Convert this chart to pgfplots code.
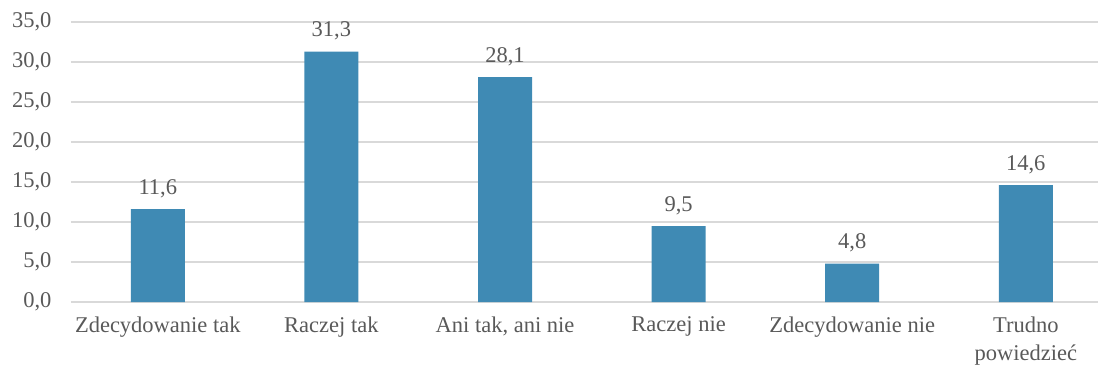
\documentclass[border=0pt]{standalone}
\usepackage{pgfplots}
\pgfplotsset{compat=1.18}
\usepackage{fontspec}
\setmainfont{Liberation Serif}
\definecolor{barc}{HTML}{3F8AB4}
\definecolor{txt}{HTML}{595959}
\definecolor{grd}{HTML}{D9D9D9}
\begin{document}
\begin{tikzpicture}
\useasboundingbox (0pt,0pt) rectangle (1098pt,367pt);
\begin{axis}[
  at={(71pt,65pt)}, anchor=south west,
  scale only axis,
  width=1027pt, height=280pt,
  xmin=-0.5, xmax=5.416,
  ymin=0, ymax=35,
  ytick={0,5,...,35},
  ymajorgrids, grid style={grd, line width=1.5pt},
  axis line style={draw=none},
  tick style={draw=none},
  xtick={0,...,5},
  xticklabels={Zdecydowanie tak, Raczej tak, {Ani tak, ani nie}, Raczej nie, Zdecydowanie nie, {Trudno\\powiedzieć}},
  xticklabel style={align=center, font=\fontsize{22.5}{28}\selectfont, text=txt, yshift=-11pt},
  yticklabel style={font=\fontsize{22.5}{22}\selectfont, text=txt, xshift=-16pt},
  /pgf/number format/.cd, fixed, fixed zerofill, precision=1, use comma, assume math mode=true,
  /pgfplots/.cd,
  clip=false,
]
\addplot[ybar, bar width=54pt, fill=barc, draw=none,
  nodes near coords, nodes near coords style={font=\fontsize{22.5}{22}\selectfont, text=txt, yshift=8pt}]
  coordinates {(0,11.6) (1,31.3) (2,28.1) (3,9.5) (4,4.8) (5,14.6)};
\end{axis}
\end{tikzpicture}
\end{document}
